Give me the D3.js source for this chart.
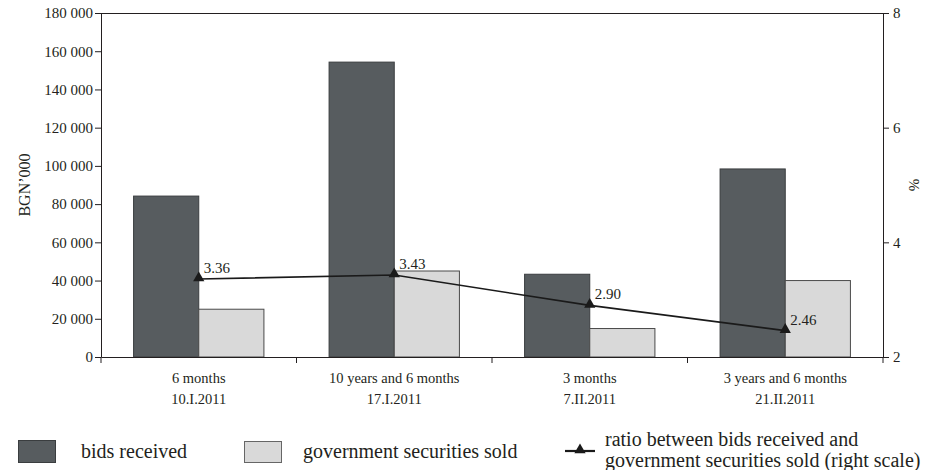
<!DOCTYPE html>
<html><head><meta charset="utf-8">
<script src="https://cdn.jsdelivr.net/npm/d3@7"></script>
<style>body{margin:0;background:#fff}svg{display:block}svg text{font-family:"Liberation Serif","Times New Roman",serif !important;fill:#231f20}</style>
</head><body><svg id="c" width="927" height="470" font-family="Liberation Serif"></svg>
<script>
const categories = ["6 months|10.I.2011","10 years and 6 months|17.I.2011","3 months|7.II.2011","3 years and 6 months|21.II.2011"];
const bidsReceived = [84200, 154300, 43300, 98400];
const securitiesSold = [25000, 45000, 14900, 40000];
const ratio = [3.36, 3.43, 2.90, 2.46];
const leftTicks = [0,20000,40000,60000,80000,100000,120000,140000,160000,180000];
const rightTicks = [2,4,6,8];
const seriesNames = ["bids received","government securities sold"];

const svg = d3.select("#c");
const L=101, R=883, T=13, B=357;
const x = d3.scaleBand().domain(categories).range([L,R]).padding(0);
const xi = d3.scaleBand().domain(seriesNames).range([0,x.bandwidth()]).paddingInner(0).paddingOuter(0.5);
const y = d3.scaleLinear().domain([0,180000]).range([B,T]);
const y2 = d3.scaleLinear().domain([2,8]).range([B,T]);
const colors = {"bids received":"#575c5f","government securities sold":"#d9d9d9"};
const strokes = {"bids received":"#3a3d3f","government securities sold":"#4a4a4a"};
const fmt = d => d3.format(",")(d).replace(/,/g," ");

// bars
const data = [bidsReceived, securitiesSold];
seriesNames.forEach((s,si)=>{
  svg.append("g").selectAll("rect").data(categories).join("rect")
    .attr("x",c=>x(c)+xi(s)).attr("width",xi.bandwidth())
    .attr("y",(c,i)=>y(data[si][i])).attr("height",(c,i)=>B-y(data[si][i]))
    .attr("fill",colors[s]).attr("stroke",strokes[s]).attr("stroke-width",1);
});

// top border
svg.append("line").attr("x1",L).attr("x2",R).attr("y1",T+0.5).attr("y2",T+0.5).attr("stroke","#231f20");

// left axis
const ga = svg.append("g").attr("transform",`translate(${L},0)`)
  .call(d3.axisLeft(y).tickValues(leftTicks).tickFormat(fmt).tickSize(6).tickSizeOuter(0));
ga.attr("font-family","Liberation Serif");
ga.selectAll("text").attr("font-size",15).attr("x",-8);
// right axis
const gr = svg.append("g").attr("transform",`translate(${R},0)`)
  .call(d3.axisRight(y2).tickValues(rightTicks).tickFormat(d3.format("d")).tickSize(6).tickSizeOuter(0));
gr.attr("font-family","Liberation Serif");
gr.selectAll("text").attr("font-size",15).attr("x",10);
// bottom axis
const gb = svg.append("g").attr("transform",`translate(0,${B})`)
  .call(d3.axisBottom(x).tickSize(0).tickFormat(""));
[L, ...categories.map(c=>x(c)+x.bandwidth())].forEach(px=>{
  gb.append("line").attr("x1",px).attr("x2",px).attr("y1",0).attr("y2",6).attr("stroke","#231f20");
});
svg.selectAll(".domain").attr("stroke","#231f20");
svg.selectAll(".tick line").attr("stroke","#231f20");

// category labels
categories.forEach(c=>{
  const [a,b] = c.split("|");
  const cx = x(c)+x.bandwidth()/2;
  svg.append("text").attr("x",cx).attr("y",383).attr("text-anchor","middle").attr("font-size",14.5).text(a);
  svg.append("text").attr("x",cx).attr("y",404).attr("text-anchor","middle").attr("font-size",14.5).text(b);
});

// axis titles
svg.append("text").attr("transform","translate(30,185) rotate(-90)").attr("text-anchor","middle").attr("font-size",16).text("BGN’000");
svg.append("text").attr("transform","translate(909,185) rotate(90)").attr("text-anchor","middle").attr("font-size",15).text("%");

// ratio line
const lx = (c)=>x(c)+x.bandwidth()/2;
const line = d3.line().x((d,i)=>lx(categories[i])).y(d=>y2(d));
svg.append("path").datum(ratio).attr("d",line).attr("fill","none").attr("stroke","#1a1a1a").attr("stroke-width",1.6);
const tri = d3.symbol().type(d3.symbolTriangle).size(55);
svg.append("g").selectAll("path").data(ratio).join("path")
  .attr("transform",(d,i)=>`translate(${lx(categories[i])},${y2(d)-1})`).attr("d",tri).attr("fill","#1a1a1a");
svg.append("g").selectAll("text").data(ratio).join("text")
  .attr("x",(d,i)=>lx(categories[i])+5).attr("y",d=>y2(d)-6)
  .attr("font-size",15).text(d=>d.toFixed(2));

// legend
const lg = svg.append("g");
lg.append("rect").attr("x",18.5).attr("y",440.5).attr("width",37).attr("height",22).attr("fill",colors["bids received"]).attr("stroke",strokes["bids received"]);
lg.append("text").attr("x",81).attr("y",458).attr("font-size",20).text(seriesNames[0]);
lg.append("rect").attr("x",244.5).attr("y",441.5).attr("width",37).attr("height",21).attr("fill",colors["government securities sold"]).attr("stroke","#666");
lg.append("text").attr("x",303).attr("y",458).attr("font-size",20).text(seriesNames[1]);
lg.append("line").attr("x1",565).attr("x2",595).attr("y1",451).attr("y2",451).attr("stroke","#1a1a1a").attr("stroke-width",2.2);
lg.append("path").attr("transform","translate(580,450)").attr("d",tri).attr("fill","#1a1a1a");
lg.append("text").attr("x",605).attr("y",446).attr("font-size",20).text("ratio between bids received and");
lg.append("text").attr("x",605).attr("y",467).attr("font-size",20).text("government securities sold (right scale)");
</script></body></html>
